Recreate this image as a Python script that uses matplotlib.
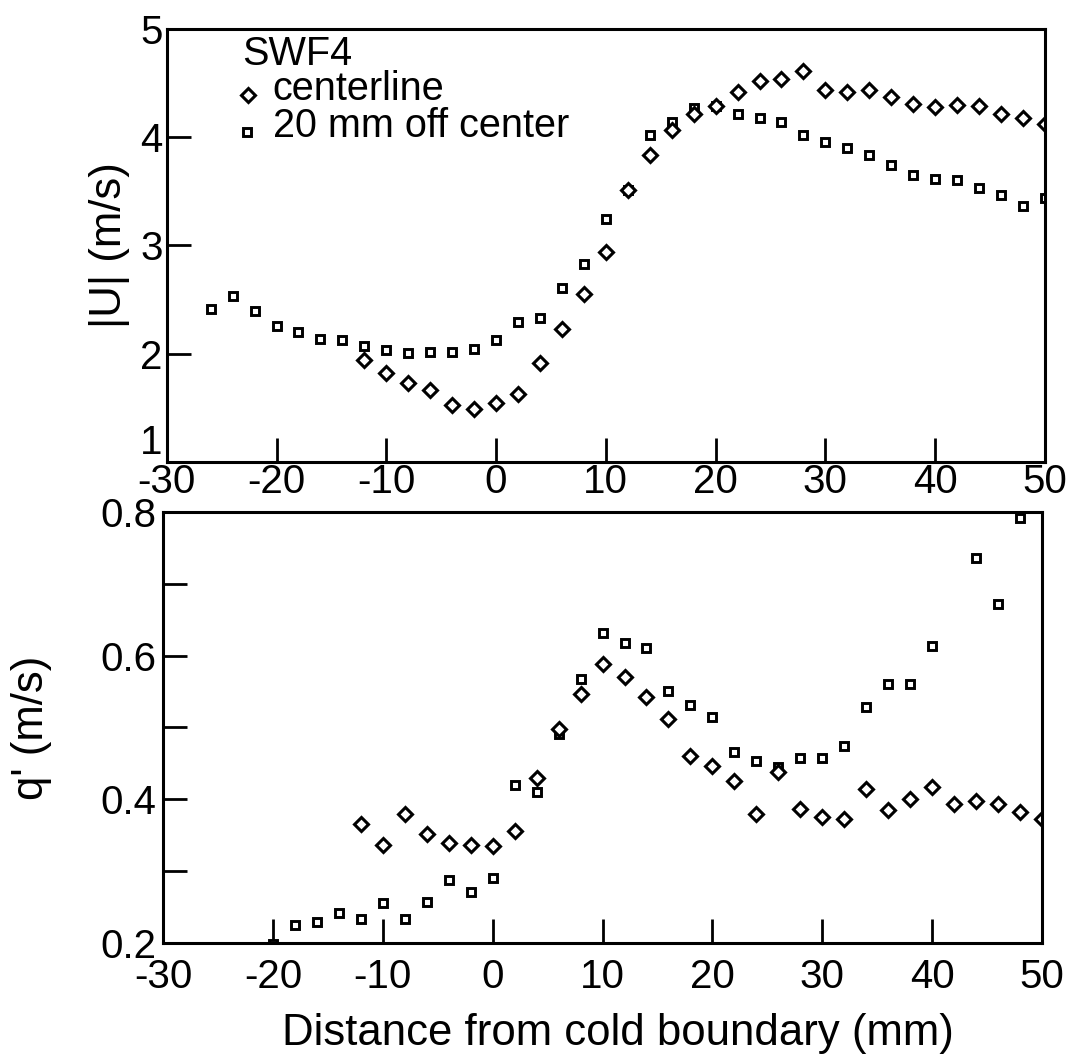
import numpy as np
import matplotlib
matplotlib.use("Agg")
from matplotlib import pyplot as plt

plt.rcParams['font.family'] = ['Liberation Sans', 'DejaVu Sans']
plt.rcParams['axes.unicode_minus'] = False

# |U| data (top panel)
x_center_u = [-12, -10, -8, -6, -4, -2, 0, 2, 4, 6, 8, 10, 12, 14, 16, 18, 20,
              22, 24, 26, 28, 30, 32, 34, 36, 38, 40, 42, 44, 46, 48, 50]
u_center = [1.94, 1.82, 1.73, 1.66, 1.53, 1.49, 1.54, 1.63, 1.91, 2.23, 2.55, 2.94,
            3.51, 3.84, 4.07, 4.21, 4.29, 4.42, 4.52, 4.54, 4.61, 4.44, 4.42, 4.44,
            4.37, 4.31, 4.28, 4.30, 4.29, 4.21, 4.18, 4.12]
x_off_u = [-26, -24, -22, -20, -18, -16, -14, -12, -10, -8, -6, -4, -2, 0, 2, 4, 6, 8,
           10, 12, 14, 16, 18, 20, 22, 24, 26, 28, 30, 32, 34, 36, 38, 40, 42, 44, 46, 48, 50]
u_off = [2.41, 2.53, 2.39, 2.26, 2.20, 2.14, 2.13, 2.07, 2.03, 2.01, 2.02, 2.02, 2.04,
         2.13, 2.29, 2.33, 2.61, 2.83, 3.24, 3.51, 4.02, 4.14, 4.27, 4.29, 4.21, 4.18,
         4.14, 4.02, 3.96, 3.90, 3.84, 3.74, 3.65, 3.61, 3.60, 3.53, 3.47, 3.36, 3.44]

# q' data (bottom panel)
x_center_q = [-12, -10, -8, -6, -4, -2, 0, 2, 4, 6, 8, 10, 12, 14, 16, 18, 20,
              22, 24, 26, 28, 30, 32, 34, 36, 38, 40, 42, 44, 46, 48, 50]
q_center = [0.366, 0.336, 0.380, 0.351, 0.339, 0.336, 0.335, 0.356, 0.429, 0.498,
            0.546, 0.589, 0.570, 0.543, 0.512, 0.460, 0.446, 0.426, 0.380, 0.438,
            0.387, 0.375, 0.372, 0.414, 0.385, 0.401, 0.417, 0.393, 0.398, 0.393,
            0.382, 0.372]
x_off_q = [-20, -18, -16, -14, -12, -10, -8, -6, -4, -2, 0, 2, 4, 6, 8, 10, 12, 14,
           16, 18, 20, 22, 24, 26, 28, 30, 32, 34, 36, 38, 40, 44, 46, 48]
q_off = [0.199, 0.225, 0.229, 0.242, 0.233, 0.255, 0.233, 0.257, 0.287, 0.271, 0.290,
         0.420, 0.410, 0.491, 0.567, 0.632, 0.617, 0.610, 0.551, 0.531, 0.514, 0.466,
         0.453, 0.445, 0.458, 0.457, 0.474, 0.528, 0.560, 0.560, 0.613, 0.736, 0.672,
         0.792]

xticks = [-30, -20, -10, 0, 10, 20, 30, 40, 50]

FS_TICK = 29
FS_LAB = 31.5
FS_LEG = 28.5

fig = plt.figure(figsize=(10.69, 10.57), dpi=100)
ax1 = fig.add_axes([0.156, 0.563, 0.8215, 0.4096])
ax2 = fig.add_axes([0.1525, 0.1079, 0.8223, 0.4077])

dia = dict(ls='none', marker='D', ms=7, mfc='white', mec='black', mew=2.2)
sq = dict(ls='none', marker='s', ms=5.5, mfc='white', mec='black', mew=2.1)

ax1.plot(x_off_u, u_off, **sq)
ax1.plot(x_center_u, u_center, **dia)
ax2.plot(x_off_q, q_off, **sq)
ax2.plot(x_center_q, q_center, **dia)

for ax in (ax1, ax2):
    ax.set_xlim(-30, 50)
    ax.set_xticks(xticks)
    for s in ax.spines.values():
        s.set_linewidth(2.2)
    ax.tick_params(direction='in', length=17, width=2, labelsize=FS_TICK,
                   top=False, right=False)

ax1.set_ylim(1, 5)
ax1.set_yticks([1, 2, 3, 4, 5])
ax1.tick_params(axis='y', pad=3)
ax1.tick_params(axis='x', pad=1)
ax1.get_yticklabels()[0].set_va('bottom')

ax2.set_ylim(0.2, 0.8)
ax2.set_yticks([0.2, 0.3, 0.4, 0.5, 0.6, 0.7, 0.8])
ax2.set_yticklabels(['0.2', '', '0.4', '', '0.6', '', '0.8'])
ax2.tick_params(axis='y', pad=5)
ax2.tick_params(axis='x', pad=11)

ax1.set_ylabel('|U| (m/s)', fontsize=FS_LAB)
ax1.yaxis.set_label_coords(-0.042, 0.5)
ax2.set_ylabel("q' (m/s)", fontsize=FS_LAB)
ax2.yaxis.set_label_coords(-0.126, 0.5)
ax2.set_xlabel('Distance from cold boundary (mm)', fontsize=FS_LAB)
ax2.xaxis.set_label_coords(0.518, -0.163)
ax2.xaxis.label.set_va('top')

# legend drawn by hand
ax1.text(0.0854, 0.917, 'SWF4', transform=ax1.transAxes, fontsize=FS_LEG,
         va='baseline', ha='left')
ax1.plot([0.0923], [0.848], transform=ax1.transAxes, ls='none', marker='D', ms=7.5,
         mfc='white', mec='black', mew=2.2)
ax1.text(0.1207, 0.836, 'centerline', transform=ax1.transAxes, fontsize=FS_LEG,
         va='baseline', ha='left')
ax1.plot([0.0911], [0.762], transform=ax1.transAxes, **sq)
ax1.text(0.1207, 0.751, '20 mm off center', transform=ax1.transAxes, fontsize=FS_LEG,
         va='baseline', ha='left')

fig.savefig('out.png', dpi=100)
